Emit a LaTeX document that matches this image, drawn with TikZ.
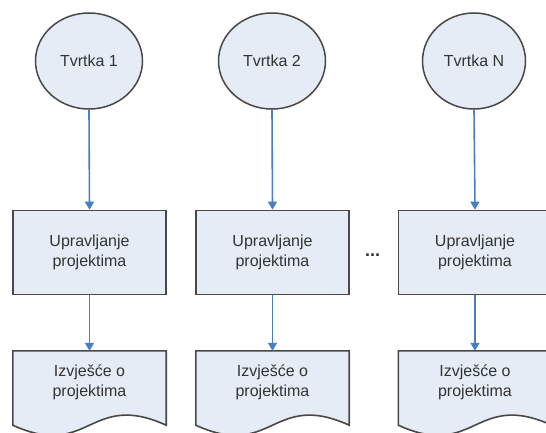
\documentclass[tikz,border=0pt]{standalone}
\usepackage{fontspec}
\setmainfont{Liberation Sans}
\usetikzlibrary{shapes.geometric,arrows.meta,calc}
\definecolor{fillc}{HTML}{E6ECF6}
\definecolor{edgec}{HTML}{484848}
\definecolor{arrc}{HTML}{4A7EC4}
\tikzset{
  x=1pt,y=1pt,
  firm/.style={ellipse,draw=edgec,fill=fillc,line width=1.5pt,minimum width=107pt,minimum height=96pt,inner sep=0pt,font=\fontsize{16}{20}\selectfont,text=black!80},
  procbox/.style={rectangle,draw=edgec,fill=fillc,line width=1.6pt,minimum width=153pt,minimum height=84pt,inner sep=0pt,align=center,font=\fontsize{16}{20}\selectfont,text=black!80},
  docarea/.style={rectangle,draw=none,minimum width=153pt,minimum height=74pt,inner sep=0pt},
  doctext/.style={align=center,font=\fontsize{16}{20}\selectfont,text=black!80,inner sep=0pt},
  flow/.style={draw=arrc,line width=1.6pt,-{Triangle[length=8pt,width=9pt]}},
  docline/.style={draw=edgec,fill=fillc,line width=1.6pt}
}
\newcommand{\docshape}[1]{%
  \path[docline] (#1.south west) -- (#1.north west) -- (#1.north east) -- (#1.south east)
    .. controls ($(#1.south)+(0,35)$) and ($(#1.south)+(0,-35)$) .. (#1.south west) -- cycle;}
\begin{document}
\begin{tikzpicture}
\useasboundingbox (0,0) rectangle (546,-433);
\clip (0,0) rectangle (546,-433);
\fill[white] (0,0) rectangle (546,-433);

\node[firm] (c1) at (89,-61) {Tvrtka 1};
\node[firm] (c2) at (272,-61) {Tvrtka 2};
\node[firm,minimum width=103pt] (c3) at (474,-61) {Tvrtka N};

\node[procbox] (b1) at (89.5,-252.5) {Upravljanje\\projektima};
\node[procbox] (b2) at (272.5,-252.5) {Upravljanje\\projektima};
\node[procbox] (b3) at (475,-252.5) {Upravljanje\\projektima};

\node[docarea] (d1) at (89.5,-388) {};
\node[docarea] (d2) at (272.5,-388) {};
\node[docarea] (d3) at (475,-388) {};
\docshape{d1}
\docshape{d2}
\docshape{d3}
\node[doctext] (t1) at (89.5,-382) {Izvješće o\\projektima};
\node[doctext] (t2) at (272.5,-382) {Izvješće o\\projektima};
\node[doctext] (t3) at (475,-382) {Izvješće o\\projektima};

\node[font=\fontsize{18}{20}\selectfont\bfseries,text=black!80,inner sep=0pt] (dots) at (372.5,-255) {...};

\draw[flow] (c1.south) -- (b1.north);
\draw[flow] (c2.south) -- (b2.north);
\draw[flow] (c3.south) -- (b3.north);
\draw[flow] (b1.south) -- (d1.north);
\draw[flow] (b2.south) -- (d2.north);
\draw[flow] (b3.south) -- (d3.north);
\end{tikzpicture}
\end{document}
